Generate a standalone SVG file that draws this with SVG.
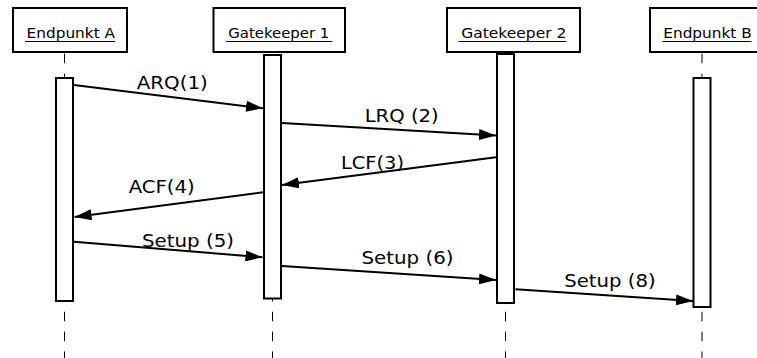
<svg xmlns="http://www.w3.org/2000/svg" width="757" height="358" viewBox="0 0 757 358">
  <defs>
    <style>
      .head { fill: #ffffff; stroke: #000000; stroke-width: 2; }
      .head-text { font-family: "DejaVu Sans", Verdana, sans-serif; font-size: 14px; fill: #000000; text-anchor: middle; }
      .uline { stroke: #000000; stroke-width: 1.2; }
      .life { stroke: #000000; stroke-width: 1; stroke-dasharray: 9.5 10.35; fill: none; }
      .bar { fill: #ffffff; stroke: #000000; stroke-width: 2; }
      .msg { stroke: #000000; stroke-width: 2; fill: none; marker-end: url(#arrow); }
      .label { font-family: "DejaVu Sans", Verdana, sans-serif; font-size: 17px; fill: #000000; text-anchor: middle; }
    </style>
    <marker id="arrow" markerUnits="userSpaceOnUse" markerWidth="17" markerHeight="11" refX="17" refY="5.5" orient="auto">
      <path d="M0,0 L17,5.5 L0,11 Z" fill="#000000"/>
    </marker>
  </defs>

  <rect width="757" height="358" fill="#ffffff"/>

  <!-- lifelines (drawn first, bars cover them) -->
  <g id="lifelines">
    <line class="life" x1="64.5" y1="53.7" x2="64.5" y2="358"/>
    <line class="life" x1="272.5" y1="53.7" x2="272.5" y2="358"/>
    <line class="life" x1="505.5" y1="53.7" x2="505.5" y2="358"/>
    <line class="life" x1="702" y1="53.7" x2="702" y2="358"/>
  </g>

  <g id="endpunkt-a">
    <rect class="head" x="13" y="8" width="114" height="44"/>
    <text class="head-text" x="70.8" y="37.6" textLength="88.5" lengthAdjust="spacingAndGlyphs">Endpunkt A</text>
    <line class="uline" x1="25" y1="41.5" x2="115" y2="41.5"/>
    <rect class="bar" x="56" y="78" width="17" height="223"/>
  </g>

  <g id="gatekeeper-1">
    <rect class="head" x="213.5" y="8" width="131.5" height="44"/>
    <text class="head-text" x="278.8" y="37.6" textLength="101" lengthAdjust="spacingAndGlyphs">Gatekeeper 1</text>
    <line class="uline" x1="226" y1="41.5" x2="332.5" y2="41.5"/>
    <rect class="bar" x="264" y="55" width="17" height="243.5"/>
  </g>

  <g id="gatekeeper-2">
    <rect class="head" x="447" y="8" width="133" height="44"/>
    <text class="head-text" x="513.8" y="37.6" textLength="105" lengthAdjust="spacingAndGlyphs">Gatekeeper 2</text>
    <line class="uline" x1="458.5" y1="41.5" x2="566.5" y2="41.5"/>
    <rect class="bar" x="497" y="54" width="17" height="249"/>
  </g>

  <g id="endpunkt-b">
    <rect class="head" x="650" y="8" width="115" height="44"/>
    <text class="head-text" x="707.5" y="37.6" textLength="88.5" lengthAdjust="spacingAndGlyphs">Endpunkt B</text>
    <line class="uline" x1="662.5" y1="41.5" x2="751.5" y2="41.5"/>
    <rect class="bar" x="693.5" y="78" width="17" height="229"/>
  </g>

  <!-- messages -->
  <g id="connectors">
    <line class="msg" x1="74" y1="85" x2="263" y2="108.3"/>
    <line class="msg" x1="282" y1="123" x2="496" y2="135.5"/>
    <line class="msg" x1="496" y1="157.3" x2="282" y2="185"/>
    <line class="msg" x1="263" y1="192.3" x2="74.5" y2="217"/>
    <line class="msg" x1="74" y1="241.7" x2="262.5" y2="257.3"/>
    <line class="msg" x1="282" y1="266" x2="496" y2="280"/>
    <line class="msg" x1="515.5" y1="289.3" x2="693" y2="301"/>
  </g>

  <g id="labels">
    <text class="label" x="172.3" y="88.5" textLength="71" lengthAdjust="spacingAndGlyphs">ARQ(1)</text>
    <text class="label" x="401.7" y="121.7" textLength="74" lengthAdjust="spacingAndGlyphs">LRQ (2)</text>
    <text class="label" x="372.5" y="169" textLength="63" lengthAdjust="spacingAndGlyphs">LCF(3)</text>
    <text class="label" x="161.7" y="192.7" textLength="66" lengthAdjust="spacingAndGlyphs">ACF(4)</text>
    <text class="label" x="188" y="246.5" textLength="92" lengthAdjust="spacingAndGlyphs">Setup (5)</text>
    <text class="label" x="407.5" y="264.3" textLength="92" lengthAdjust="spacingAndGlyphs">Setup (6)</text>
    <text class="label" x="610" y="286.7" textLength="91.5" lengthAdjust="spacingAndGlyphs">Setup (8)</text>
  </g>
</svg>
